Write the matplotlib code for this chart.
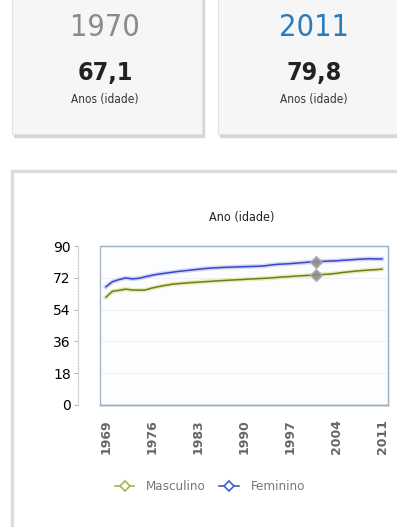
import matplotlib
matplotlib.use("Agg")
import matplotlib.pyplot as plt
from matplotlib.lines import Line2D
from matplotlib.patches import Rectangle

# data
anos = list(range(1969, 2012))
feminino = [66.9, 69.8, 71.0, 71.9, 71.4, 71.7, 72.6, 73.4, 74.1, 74.6,
            75.1, 75.6, 76.0, 76.4, 76.8, 77.2, 77.5, 77.7, 77.9, 78.0,
            78.2, 78.3, 78.4, 78.5, 78.7, 79.2, 79.6, 79.8, 80.0, 80.3,
            80.6, 80.9, 81.1, 81.3, 81.5, 81.6, 81.9, 82.1, 82.4, 82.6,
            82.8, 82.7, 82.7]
masculino = [61.0, 64.4, 64.9, 65.6, 65.1, 65.0, 65.1, 66.2, 67.0, 67.7,
             68.3, 68.7, 69.0, 69.3, 69.5, 69.8, 70.0, 70.3, 70.5, 70.7,
             70.9, 71.1, 71.3, 71.5, 71.7, 71.9, 72.2, 72.5, 72.7, 73.0,
             73.2, 73.4, 73.6, 73.9, 74.1, 74.5, 75.0, 75.4, 75.8, 76.1,
             76.4, 76.6, 76.9]
x_ticks = [1969, 1976, 1983, 1990, 1997, 2004, 2011]
y_ticks = [0, 18, 36, 54, 72, 90]
ano_hover = 2001

cards = [("1970", "67,1", "#8a8a8a"), ("2011", "79,8", "#2b7bb9")]

W, H = 397, 527
fig = plt.figure(figsize=(W / 100, H / 100), dpi=100)
fig.patch.set_facecolor("white")

# condensed face to get closer to the narrow font of the page
cond = dict(family="DejaVu Sans", fontstretch="condensed")

# background layer in pixel coordinates (cards and panel)
bg = fig.add_axes([0, 0, 1, 1])
bg.set_xlim(0, W)
bg.set_ylim(H, 0)
bg.axis("off")

card_boxes = [(12, 202), (218, 420)]
for (x0, x1), (ano, valor, cor) in zip(card_boxes, cards):
    bg.add_patch(Rectangle((x0 + 2, -10), x1 - x0, 147, color="#d6d6d6", zorder=1))
    bg.add_patch(Rectangle((x0, -10), x1 - x0, 144, facecolor="#f6f6f6",
                           edgecolor="#e2e2e2", lw=0.8, zorder=2))
    cx = 105 if x0 < 100 else 314
    bg.text(cx, 27, ano, ha="center", va="center", fontsize=22, color=cor,
            zorder=3, **cond)
    bg.text(cx, 73, valor, ha="center", va="center", fontsize=18, color="#222222",
            fontweight="bold", zorder=3, **cond)
    bg.text(cx, 100, "Anos (idade)", ha="center", va="center", fontsize=8.5,
            color="#333333", zorder=3, **cond)

# big chart panel
bg.add_patch(Rectangle((12, 171), 420, 400, facecolor="white",
                       edgecolor="#dcdcdc", lw=2.5, zorder=1))

# chart
ax = fig.add_axes([100 / W, 1 - 405 / H, 288 / W, 159 / H])
ax.set_facecolor("#fcfdff")

ax.plot(anos, masculino, color="#e4e8a8", lw=3.2, alpha=0.8, zorder=3)
ax.plot(anos, masculino, color="#6f7c22", lw=1.1, zorder=4)
ax.plot(anos, feminino, color="#c9cdf2", lw=3.2, alpha=0.8, zorder=3)
ax.plot(anos, feminino, color="#3a46c8", lw=1.1, zorder=4)

# hover markers
i = anos.index(ano_hover)
for serie in (feminino, masculino):
    ax.plot(ano_hover, serie[i], marker="D", ms=6, color="#8c8c8c",
            mec="#b0b0b0", alpha=0.9, zorder=5)

ax.set_xlim(1968.1, 2011.9)
ax.set_ylim(0, 90)
ax.set_xticks(x_ticks)
ax.set_xticklabels([str(t) for t in x_ticks], rotation=90, fontsize=9,
                   color="#666666", fontweight="bold")
ax.set_yticks(y_ticks)
ax.set_yticklabels([str(t) for t in y_ticks], fontsize=6.5, color="#555555", **cond)
ax.tick_params(axis="x", length=0, pad=10)
ax.tick_params(axis="y", length=3, width=0.6, color="#aaaaaa", pad=2)
ax.grid(axis="y", color="#eef0f2", lw=0.7)
ax.set_axisbelow(True)

for side in ("top", "right"):
    ax.spines[side].set_color("#9fb0c2")
    ax.spines[side].set_linewidth(0.9)
ax.spines["bottom"].set_color("#5d6f82")
ax.spines["bottom"].set_linewidth(1.0)
ax.spines["left"].set_position(("outward", 16))
ax.spines["left"].set_color("#c8c8c8")
ax.spines["left"].set_linestyle((0, (1, 1.5)))
ax.spines["left"].set_linewidth(0.8)
ax.add_patch(Rectangle((0, 0), 1, 1, transform=ax.transAxes, fill=False,
                       edgecolor="#9fb0c2", lw=0.9, zorder=6, clip_on=False))

fig.text(242 / W, 1 - 217 / H, "Ano (idade)", ha="center", va="center",
         fontsize=9, color="#222222", **cond)

handles = [
    Line2D([], [], color="#a7b548", lw=1.2, marker="D", ms=5, mfc="white",
           mec="#a7b548", mew=1.2),
    Line2D([], [], color="#3d5fd0", lw=1.2, marker="D", ms=5, mfc="white",
           mec="#3d5fd0", mew=1.2),
]
leg = fig.legend(handles, ["Masculino", "Feminino"], loc="center",
                 bbox_to_anchor=(210 / W, 1 - 487 / H), ncol=2, frameon=False,
                 handlelength=1.5, handletextpad=0.9, columnspacing=1.0,
                 prop={"family": "DejaVu Sans", "stretch": "condensed", "size": 9.5})
for t in leg.get_texts():
    t.set_color("#777777")

fig.savefig("out.png", dpi=100)
